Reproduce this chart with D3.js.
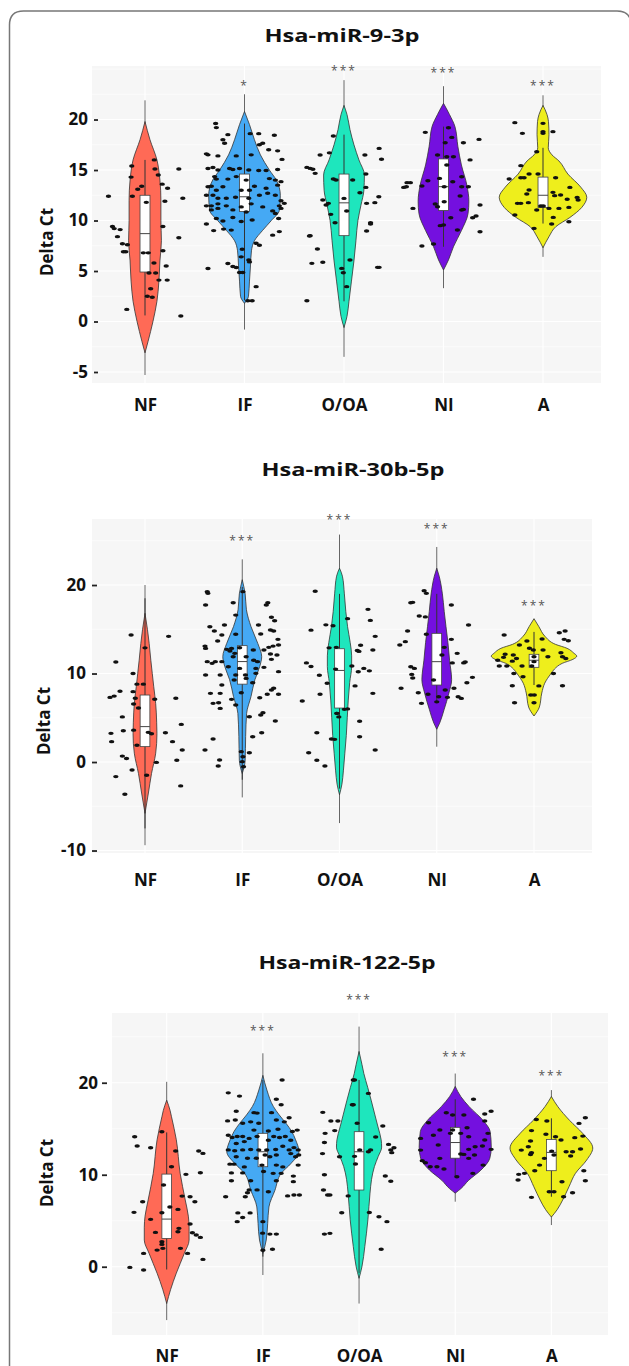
<!DOCTYPE html>
<html>
<head>
<meta charset="utf-8">
<script src="https://cdn.jsdelivr.net/npm/d3@7"></script>
<style>
  body { margin: 0; background: #fff; }
  svg { display: block; font-family: "Open Sans", sans-serif; }
</style>
</head>
<body>
<svg width="629" height="1366"></svg>
<script>
// groups and colours
var categories = ["NF", "IF", "O/OA", "NI", "A"];
var fills = ["#ff6a56", "#45a9f4", "#1ee6bd", "#7410df", "#eeee1c"];
var titles = ["Hsa-miR-9-3p", "Hsa-miR-30b-5p", "Hsa-miR-122-5p"];
var yTicks1 = [-5, 0, 5, 10, 15, 20];
var yTicks2 = [-10, 0, 10, 20];
var yTicks3 = [0, 10, 20];

// significance marks and their height (Delta Ct units)
var stars1 = ["", "*", "***", "***", "***"];
var starAt1 = [null, 23.5, 25.0, 24.8, 23.5];
var stars2 = ["", "***", "***", "***", "***"];
var starAt2 = [null, 25.2, 27.6, 26.5, 17.9];
var stars3 = ["", "***", "***", "***", "***"];
var starAt3 = [null, 25.8, 29.2, 23.0, 20.9];

// ---- panel 1 : miR-9-3p ----
// violin outline: [Delta Ct, half width]
var violin1 = [
  [[19.8,0],[18,5],[16,12],[14,15],[12,16],[10,16],[8,16.5],[6,15],[4,14],[2,12],[0,8],[-2,3],[-3.1,0]],
  [[20.8,0],[19.5,5],[18,10],[16.5,16],[15,25],[14,32],[12.5,36],[11,35],[10,27],[9,18],[8,10],[7,7],[5.5,6],[4,5],[2.5,4],[1.8,0]],
  [[21.4,0],[20.5,3],[19,6],[17.5,10],[16,15],[14.5,20.5],[13,20],[11.5,17],[10,14],[8,12],[6,10],[4,7.5],[2,5],[0.5,3],[-0.6,0]],
  [[21.6,0],[20.5,6],[19.3,11.5],[17.3,14.5],[15.5,18],[13.5,23.5],[11.9,25.5],[10.7,24.7],[9,18],[7.4,10],[6.1,5],[5.1,0]],
  [[21.4,0],[20.5,4],[19.8,5.5],[18.5,6],[17.2,5.3],[16.5,9],[15.9,16],[14.6,25],[13.3,38],[12.3,44],[11.3,39],[10.3,27],[9.4,13],[8.4,6],[7.3,0]]
];
var box1 = [[4.9,8.7,12.5],[10.9,12.35,14.6],[8.5,11.75,14.6],[11.0,13.35,16.1],[11.3,12.5,14.3]];
var whisker1 = [[0.6,16.0],[2.1,19.6],[2.0,18.5],[7.4,19.3],[9.7,17.2]];
var range1 = [[-5.3,21.9],[-0.8,22.5],[-3.5,23.9],[3.3,23.3],[6.4,22.4]];
// points: [jitter, Delta Ct]
var points1 = [
  [[-36.7,12.4],[-32.7,9.4],[-31,9.2],[-27.7,8.4],[-25,9.1],[-22.7,7.7],[-19.3,6.9],[-17.7,7.6],[-21.7,6.9],[-18.3,1.2],[-14,14.3],[-13.3,15.4],[-12.7,12.4],[-7.3,13.1],[-3.3,13.4],[-1.7,6.8],[1.3,11.8],[3.3,6.8],[4,4.8],[5.7,3.25],[2.3,2.5],[7.3,2.4],[9.3,16.0],[10,15.1],[10.7,4.8],[13.3,14.5],[17.3,13.6],[18,9.4],[18,7.0],[20,11.9],[21.3,5.5],[22.3,4.1],[22.7,13.2],[34,15.1],[34,8.3],[38,12.2],[36,0.55],[9,5.8],[14,4.1]],
  [[-29,19.6],[-28.3,19.2],[-16.7,18.5],[-21.7,18.0],[-20,17.65],[-38.3,16.6],[-36.7,16.5],[-26.7,16.4],[-8.3,16.4],[6.7,16.5],[15,17.5],[18.3,17.65],[24.3,17.0],[30,18.45],[33.3,16.9],[37.7,16.05],[5.7,18.6],[14.3,18.6],[-36.7,15.15],[-31.7,15.25],[-26.7,15.0],[-15,15.15],[-11.7,15.05],[-5,15.15],[4.3,15.0],[14.3,14.95],[21.7,14.95],[33.3,15.05],[-30,14.35],[-28.3,14.1],[-16.7,14.1],[-8.3,14.35],[1.7,14.0],[25,14.15],[31,14.0],[36.7,13.85],[-36.7,13.35],[-33.3,13.4],[-28.3,13.0],[-21.7,13.35],[-3.3,13.0],[5,13.0],[10,13.4],[21.7,13.2],[23.3,12.7],[33.3,13.5],[-38.3,12.5],[-31.7,12.5],[-26.7,12.2],[-18.3,12.2],[-9,12.3],[4.3,12.2],[15,12.5],[31,12.5],[36.7,11.95],[-38.3,11.45],[-33.3,11.45],[-26.7,11.65],[-18.3,11.45],[-3.3,11.35],[6.7,11.65],[18.3,11.35],[35,11.45],[40,11.7],[28.3,10.95],[-33.3,11.05],[-26.7,11.2],[-11.7,11.05],[1.7,10.85],[31,10.7],[36.7,11.2],[-38.3,9.65],[-28.3,10.2],[-21.7,9.95],[-11.7,10.3],[-3.3,9.9],[7.7,10.05],[34.3,10.2],[-31,9.0],[-21,9.15],[-13.3,9.05],[28.3,8.55],[35,8.9],[11.7,7.75],[15,7.55],[-2.3,7.15],[-3.3,6.4],[4.3,6.1],[5,5.9],[-16.7,5.75],[-11.7,5.45],[-8.3,5.35],[-36.7,5.25],[-5,4.85],[-1.7,4.85],[11.7,3.45],[3.3,2.05],[7.7,2.05]],
  [[-37.3,15.26],[-34,15.16],[-31.3,15.07],[-29,14.67],[-24,16.48],[-14.7,16.7],[-10.7,18.37],[-10.7,14.11],[-8,14.01],[8.7,14.01],[21,16.48],[35.3,17.14],[37.7,16.06],[22,14.6],[22,13.28],[16,12.75],[35,12.36],[31,11.77],[22.7,11.7],[0,12.19],[-21.3,12.03],[-18,11.53],[-15.7,11.7],[-13.3,10.61],[2.7,10.94],[-9,9.78],[26.7,9.78],[26.7,9.65],[22.7,8.96],[-34,8.5],[-34.7,8.46],[-26.7,7.18],[-32.3,5.76],[-21.3,5.86],[6,6.09],[-2.3,5.26],[-0.7,4.83],[2.7,3.45],[33.7,5.36],[35.3,5.36],[-37.3,2.06]],
  [[-18.3,18.73],[5,19.19],[8.3,18.23],[20,17.7],[35.7,18.03],[1.7,17.7],[-6,16.48],[3.3,16.32],[10,16.32],[26.7,16.0],[-36.7,13.75],[-33.3,13.75],[-40,13.28],[-37.3,13.35],[-21.7,13.41],[-15.7,13.94],[-4,14.17],[3.3,15.5],[0.7,13.35],[18.3,14.34],[18.3,13.35],[25,13.35],[9.3,13.84],[16.7,12.42],[-30.7,11.2],[-8.3,11.63],[-6,11.37],[0.7,11.86],[18.3,11.04],[20,11.1],[36.7,11.53],[29.3,10.28],[32.7,10.45],[-3.3,9.49],[0,9.55],[7.3,10.28],[14,9.06],[36.7,8.89],[-21.7,7.47],[-10,7.67]],
  [[-28.3,19.69],[-20.7,18.63],[0,19.62],[0,18.8],[0,18.63],[10,18.8],[-6.3,16.81],[-22.3,15.43],[-34,14.11],[-22.3,14.24],[-19,14.24],[-14,14.6],[-5,14.6],[12.7,14.24],[27,13.28],[-14,13.02],[-16.3,12.62],[-25.7,11.7],[-22.3,11.7],[-14.7,11.77],[-2.3,11.43],[0.3,11.43],[10,12.79],[11.7,12.46],[17.7,12.52],[24.3,12.1],[34.3,12.29],[35.3,12.03],[6,11.2],[16,11.2],[26,11.3],[-28.3,10.54],[-6.3,11.04],[10.3,10.31],[8.7,9.65],[26,9.88],[-9,9.22]]
];

// ---- panel 2 : miR-30b-5p ----
var violin2 = [
  [[16.8,0],[15,2.5],[13.4,4.3],[11.5,6],[10,7.5],[8.5,9],[6.6,11],[4.5,12],[3.2,12.3],[1,11],[-1.3,6.7],[-3.5,3.5],[-5.8,0]],
  [[20.6,0],[19,3],[17.2,4.3],[15.3,9],[13.4,16],[11.9,20],[10.8,18],[9.3,13],[7.4,9],[5.5,4.5],[2.9,3.5],[0.2,3],[-1.3,0]],
  [[21.9,0],[21,3],[19,5],[17,6.5],[15.3,8.3],[13.5,11],[12,12.5],[10.8,12.5],[9,10.5],[7,9],[5,8],[3,7],[1,5.5],[-1,4],[-2.5,2.5],[-3.7,0]],
  [[21.9,0],[21,2.5],[19,5.8],[17,7.7],[15.3,9.5],[13.5,11.5],[11.5,13.2],[9.3,15.3],[7.8,12.5],[5.9,7.5],[4.4,3],[3.7,0]],
  [[16.2,0],[15.3,5],[14.2,11.3],[13.3,22],[12.85,34],[12.3,41],[11.97,44],[11.6,40],[11.15,29],[10.5,21],[10,17.5],[8.9,11],[7.8,8],[6.2,5.5],[5.2,0]]
];
var box2 = [[1.74,4.0,7.57],[8.8,11.35,13.15],[6.1,10.35,12.8],[8.7,11.34,14.54],[10.7,11.5,12.17]];
var whisker2 = [[-7.5,18.5],[-2.0,19.8],[-3.0,19.0],[6.9,19.0],[8.7,14.7]];
var range2 = [[-9.4,20.0],[-4.0,22.9],[-6.9,25.7],[1.73,24.3],[8.7,14.7]];
var points2 = [
  [[-14.3,14.35],[24.3,14.2],[-30,11.3],[-12.3,10.0],[-8.3,8.8],[-1.7,8.8],[-25.7,8.0],[-31.7,7.45],[-36,7.3],[-12.3,7.95],[10,7.1],[31.7,7.2],[-10,7.2],[-11.7,6.55],[-6.7,6.1],[-23.3,5.1],[37.3,4.25],[-35,3.24],[-22.3,3.54],[-11.7,3.6],[3.3,3.35],[21,3.3],[-34.3,2.3],[-8.3,1.9],[28.3,2.3],[38.3,1.35],[-23.3,0.67],[-19,0.4],[11.7,-0.04],[32.7,0.2],[-13.3,-0.9],[-30,-1.65],[1.7,-1.5],[36.7,-2.7],[-20.7,-3.65],[6.7,3.2],[0,12.9]],
  [[-36,19.25],[-35.3,19.06],[0.7,19.25],[-37.7,17.74],[-9.3,18.0],[26.3,18.0],[24.7,17.74],[-6.7,16.6],[30,16.35],[33.3,15.97],[-33.3,15.29],[-18.3,15.48],[16.7,15.48],[-28.7,14.8],[29,14.92],[32.3,14.8],[-21,14.35],[-6.7,14.43],[19,14.46],[-25.3,13.67],[36.7,13.86],[-38.3,13.1],[-37.7,12.84],[-16,12.73],[-11,12.84],[-2.7,12.92],[27.3,12.96],[31.7,13.1],[37.3,13.22],[-12.7,12.54],[-7.7,12.28],[11.3,12.66],[22.3,12.66],[29,12.2],[35.7,12.09],[-36,11.34],[-27.7,11.34],[-21,11.34],[-9.3,11.9],[4,11.9],[11.7,11.5],[15.7,11.34],[30,11.6],[-31,11.15],[-14.3,10.77],[-2.7,10.58],[14,10.58],[22.3,10.7],[-37.7,9.83],[-22.7,9.83],[-6.7,9.83],[3.3,9.83],[14,10.02],[37.3,10.21],[-21,8.7],[-8.3,9.27],[4,9.45],[10.7,8.96],[-32.7,7.76],[-22.7,7.76],[-1,7.83],[18,7.27],[30,8.14],[32.3,8.33],[25.7,7.65],[37.3,7.65],[-30,6.63],[-24.3,6.7],[-22.7,6.06],[-11,7.08],[-6.7,6.44],[19,5.31],[21.3,5.57],[7.3,5.12],[34,4.63],[20,3.3],[10.7,2.86],[-30,2.6],[-38.3,1.36],[-1,1.17],[7.3,1.05],[-23.3,0.22],[-24.7,-0.45],[0,0.04],[1.3,-0.53],[0.7,0.6]],
  [[-25,19.3],[-29.3,14.9],[-14,15.5],[-34,11.2],[-29.3,10.8],[-20.7,9.8],[-20,7.65],[-38.3,6.9],[-23.3,3.3],[-5,2.56],[-31.7,1.05],[-23.3,0.2],[-15,-0.45],[-10.7,12.9],[-2.7,5.5],[-12.7,8.9],[29.3,17.25],[31.7,16.0],[36.7,14.2],[21.7,13.2],[18.3,12.6],[20,12.5],[34.3,12.66],[8.3,16.2],[-6.7,15.4],[12.7,10.85],[25,10.58],[30.7,10.3],[19.3,10.2],[16,8.6],[34.3,7.76],[8.3,6.0],[5,5.95],[-2.7,5.5],[-0.7,5.1],[20.7,4.6],[20.7,2.86],[36.7,1.36],[-8.3,2.6],[-4,10.5],[-3.3,12.96]],
  [[-13,19.36],[-10.7,19.06],[-26.7,18.0],[-24.7,18.04],[15,17.74],[-18,16.5],[-11.7,16.4],[32.7,15.48],[-30,14.8],[-10.7,14.43],[-32.3,13.6],[-38,13.22],[15,13.86],[7.7,12.96],[5.3,12.09],[21,12.28],[-26.7,10.77],[-23,10.58],[-25.7,9.9],[-24.7,9.5],[27.7,11.2],[29.3,11.3],[16,11.2],[36.7,9.57],[31,8.96],[-3.3,9.27],[-36.7,8.33],[8.7,8.14],[17.7,8.33],[-19,7.83],[-9,7.65],[2,7.38],[11,7.31],[22,7.38],[25.3,7.19],[-15.7,6.63],[0,6.8]],
  [[-30.7,14.35],[26,14.6],[32,14.8],[31,13.86],[35.3,13.7],[8.3,13.9],[-7.3,13.67],[-15,13.22],[-29.7,12.17],[-31.3,11.83],[-37.3,11.5],[-35.7,10.85],[-28,10.85],[-22.3,11.4],[-21.3,12.09],[-18,11.7],[-12.3,10.85],[-4.7,12.85],[-0.7,12.66],[0,11.9],[0,11.34],[-2.3,10.85],[27.7,12.35],[29.3,11.9],[32.7,11.7],[20,10.0],[-20.7,10.0],[-11.3,9.64],[-22.3,8.62],[5,8.6],[29.3,8.62],[-3.3,7.57],[0.3,7.57],[-20,6.7],[0,6.7],[9.3,12.66],[14.3,11.9]]
];

// ---- panel 3 : miR-122-5p ----
var violin3 = [
  [[18.1,0],[17,3.5],[16.3,5],[13.8,10],[10.15,14],[7.25,19.3],[5.5,22.5],[4.3,23.3],[2.9,23.3],[1.45,18.3],[-0.7,10],[-2.5,4],[-4,0]],
  [[20.8,0],[19.2,4.2],[17.4,11],[16.5,17],[15.6,24],[14.7,30],[13.8,34],[12.5,37.5],[11.2,29],[10.15,19],[8.3,12.5],[6.5,6.3],[4.7,5],[2.9,3.5],[1.45,0]],
  [[23.4,0],[22,3],[21,5],[19.5,9],[18.1,12.6],[16.5,16.5],[15.2,19.7],[13.8,23],[13,23.5],[12,20],[10.9,16],[9.5,13],[8,11.4],[5.1,9.2],[2.2,6],[0,3],[-1.26,0]],
  [[19.6,0],[18.5,5.8],[17.4,14.5],[15.9,29],[14.7,36.3],[13,37.5],[11.8,36],[10.5,26.7],[9.4,14],[8.5,6],[8,0]],
  [[18.5,0],[17.4,6.7],[15.9,19],[14.5,32.5],[12.9,43],[11.6,36.7],[10.15,25],[8.7,18.3],[7.25,11.7],[6.2,6],[5.4,0]]
];
var box3 = [[3.08,5.18,10.07],[10.87,12.5,14.5],[8.34,12.5,14.68],[11.8,13.5,15.15],[10.44,12.43,13.84]];
var whisker3 = [[-0.3,14.6],[1.1,20.3],[-0.7,20.3],[9.8,18.2],[7.61,16.13]];
var range3 = [[-5.8,20.1],[-0.9,23.2],[-4.0,26.1],[7.07,21.0],[4.53,19.2]];
var points3 = [
  [[-33.3,14.13],[-30.7,13.12],[-16.7,12.94],[-5,14.68],[9.3,12.58],[33.3,12.58],[37.7,12.32],[5,10.87],[20,10.04],[35,10.22],[-3.3,8.88],[16,7.68],[24.3,7.61],[29.3,7.07],[-25,7.07],[-34,5.91],[-16.7,5.15],[-5,5.87],[11.7,6.23],[24.3,4.64],[26.7,3.7],[30.7,3.45],[35,3.19],[12.7,4.17],[11.7,3.8],[-11.7,3.73],[-5,2.72],[-5,2.43],[-4,2.0],[-10,1.81],[14.3,2.0],[21.7,1.45],[-24,1.45],[-38.3,-0.07],[-24,-0.36],[37.7,0.8],[3.3,6.5]],
  [[20,20.3],[-36,18.9],[-24.3,18.55],[14,18.2],[19,17.6],[-27.7,16.9],[-9.3,16.75],[-6,16.7],[9,16.75],[27.3,16.2],[-36.7,15.85],[-28.7,15.95],[-21,15.6],[-12.7,15.75],[-4.3,15.6],[14,15.95],[22.3,15.75],[35.7,14.85],[30.7,14.7],[-9.3,14.85],[5.7,14.75],[15.7,14.95],[-36,14.3],[-32,14.05],[-26.7,14.15],[-21,14.15],[-14.3,13.95],[-6,14.15],[11.3,14.15],[17.3,14.05],[23.3,14.15],[29,13.75],[-27.7,13.4],[-19.3,13.6],[5.7,13.75],[20.7,13.1],[32.3,12.95],[-36,12.7],[-29.3,12.6],[-21,12.7],[-12.7,12.75],[-4.3,12.7],[4,12.7],[13.3,12.75],[27.3,12.7],[36.7,12.7],[-27.7,11.95],[-16,11.8],[-6.7,11.8],[2.3,12.15],[7.3,11.95],[14,12.15],[29,12.3],[34,11.95],[37.3,12.15],[-34.3,11.15],[-30,11.15],[-19.3,10.85],[-1,11.05],[14,11.05],[20.7,10.85],[36.7,11.05],[-32.7,10.2],[-21,10.2],[0.7,10.35],[10.7,10.15],[19,10.15],[31.7,9.85],[-32.7,9.35],[-12.7,9.35],[14,9.35],[31.7,9.25],[-14.3,8.35],[5.7,8.15],[-6,8.35],[25.7,7.7],[32.3,7.8],[38,7.8],[-38.7,7.6],[-18.3,7.6],[-16,8.05],[-26,5.85],[-13.3,5.85],[-26.7,4.9],[-21,5.35],[0,4.9],[-0.3,3.65],[7.3,3.55],[14,3.55],[0,1.8],[10,1.9]],
  [[-37.7,16.78],[-29.3,15.84],[-22,15.84],[-25.3,14.8],[-35.3,14.5],[-36,13.5],[-38,12.3],[-20.3,11.96],[-6,20.3],[-6,17.6],[-2,15.6],[-36,10.0],[-37,8.34],[-32.7,7.8],[-30.3,7.8],[-11.3,7.7],[-18,5.87],[-36,3.55],[-30.3,3.63],[-4.7,20.3],[9.7,18.84],[-7,17.6],[24.7,15.3],[17.3,14.1],[30.7,13.3],[36.3,12.94],[33,12.7],[34,12.4],[12,12.7],[9.7,12.5],[-4.7,12.0],[-3.7,11.16],[27.3,9.86],[33,9.3],[10.7,5.9],[20.7,5.44],[29,4.9],[23,1.9],[0.7,12.7]],
  [[19,18.2],[37.3,16.9],[30.7,16.6],[-9.3,16.74],[-2.7,16.5],[9,16.5],[-27.7,15.65],[30.7,15.84],[12.3,15.1],[-16,14.86],[-22.7,14.3],[-5,14.5],[5.7,14.5],[14,14.13],[-36,13.95],[34,14.5],[30.7,13.77],[-17.7,13.23],[-2.7,14.86],[20.7,13.05],[28.3,13.12],[14,12.76],[37.3,12.76],[-36,12.68],[9,12.21],[20,12.14],[5.7,12.25],[-16,11.78],[-34.3,11.53],[-31,11.3],[14,11.78],[-26,10.87],[-19,10.87],[-11.7,10.62],[29,11.05],[18.3,10.15],[1.7,9.78]],
  [[-15.7,16.0],[-4.7,15.84],[35.3,16.2],[28.7,15.58],[-20.7,14.8],[-5.7,14.4],[4.3,14.13],[10,13.77],[24.3,14.03],[32.7,14.2],[-21.7,13.66],[-24,13.05],[-20.7,12.4],[-31.3,12.68],[-21.7,12.2],[-7.3,11.78],[0.3,12.57],[2.7,12.14],[15.3,12.5],[22,12.5],[20,12.03],[30.3,12.8],[-12.3,11.05],[-17.3,10.44],[-34,10.04],[-28,10.15],[-34.7,9.42],[11,9.24],[33.7,10.44],[35.3,9.35],[-2.3,8.15],[2.7,8.15],[22,8.05],[12.7,7.61],[-20.7,7.54]]
];

// layout of the three stacked panels
var panels = [
  {title: titles[0], tx: 342, ty: 42, tlen: 155, left: 92, right: 601, top: 66, bottom: 383, dom: [-6.09, 25.3],
   cx: [145, 543], ticks: yTicks1, axisX: 98, tick: 4, pad: 6, labY: 411, ylx: 47, yly: 242,
   violin: violin1, box: box1, whisk: whisker1, span: range1, pts: points1, stars: stars1, starAt: starAt1},
  {title: titles[1], tx: 353, ty: 476, tlen: 183, left: 92, right: 592, top: 519, bottom: 853, dom: [-10.28, 27.46],
   cx: [145, 534], ticks: yTicks2, axisX: 97, tick: 5, pad: 6, labY: 886, ylx: 44, yly: 721,
   violin: violin2, box: box2, whisk: whisker2, span: range2, pts: points2, stars: stars2, starAt: starAt2},
  {title: titles[2], tx: 347, ty: 969, tlen: 177, left: 112, right: 608, top: 1013, bottom: 1335, dom: [-7.42, 27.58],
   cx: [166.7, 551.4], ticks: yTicks3, axisX: 107, tick: 5, pad: 4, labY: 1362, ylx: 47, yly: 1173,
   violin: violin3, box: box3, whisk: whisker3, span: range3, pts: points3, stars: stars3, starAt: starAt3}
];

var svg = d3.select("svg");

// frame round the figure
svg.append("path")
  .attr("d", "M9.5,1366 V25 Q9.5,11 23.5,11 H617 Q631,11 631,25 V1366")
  .attr("fill", "none").attr("stroke", "#777").attr("stroke-width", 1.5);

panels.forEach(function(p){
  var g = svg.append("g");
  var y = d3.scaleLinear().domain(p.dom).range([p.bottom, p.top]);
  var x = d3.scalePoint().domain(categories).range(p.cx);
  var w = d3.scaleLinear().domain([0, 100]).range([0, x.step()]);

  g.append("text").attr("x", p.tx - p.tlen / 2).attr("y", p.ty)
    .attr("textLength", p.tlen).attr("lengthAdjust", "spacingAndGlyphs")
    .attr("font-size", 17).attr("font-weight", 700)
    .attr("fill", "#111").text(p.title);

  g.append("rect").attr("x", p.left).attr("y", p.top)
    .attr("width", p.right - p.left).attr("height", p.bottom - p.top)
    .attr("fill", "#f6f6f6");

  // grid
  var minor = d3.range(p.ticks[0] - (p.ticks[1]-p.ticks[0])/2, p.dom[1], (p.ticks[1]-p.ticks[0])/2)
    .filter(function(v){ return v > p.dom[0] && p.ticks.indexOf(v) < 0; });
  g.selectAll(".minor").data(minor).enter().append("line")
    .attr("x1", p.left).attr("x2", p.right)
    .attr("y1", function(d){ return y(d); }).attr("y2", function(d){ return y(d); })
    .attr("stroke", "#fff").attr("stroke-width", 0.6);
  g.selectAll(".major").data(p.ticks).enter().append("line")
    .attr("x1", p.left).attr("x2", p.right)
    .attr("y1", function(d){ return y(d); }).attr("y2", function(d){ return y(d); })
    .attr("stroke", "#fff").attr("stroke-width", 1.2);
  g.selectAll(".vgrid").data(categories).enter().append("line")
    .attr("x1", function(d){ return x(d); }).attr("x2", function(d){ return x(d); })
    .attr("y1", p.top).attr("y2", p.bottom)
    .attr("stroke", "#fff").attr("stroke-width", 1.2);

  // y axis
  var ya = g.append("g").attr("transform", "translate(" + p.axisX + ",0)")
    .call(d3.axisLeft(y).tickValues(p.ticks).tickSize(p.tick).tickPadding(p.pad)
      .tickFormat(function(d){ return String(d); }));
  ya.select(".domain").remove();
  ya.selectAll("line").attr("stroke", "#222").attr("stroke-width", 1.8);
  ya.selectAll("text").attr("font-size", 17).attr("font-weight", 700).attr("fill", "#111")
    .attr("font-family", "Open Sans, sans-serif");

  // x axis labels
  var xa = g.append("g").attr("transform", "translate(0," + p.labY + ")")
    .call(d3.axisBottom(x).tickSize(0).tickPadding(0));
  xa.select(".domain").remove();
  xa.selectAll("text").attr("dy", 0).attr("y", 0).attr("font-size", 17).attr("font-weight", 700)
    .attr("fill", "#111").attr("font-family", "Open Sans, sans-serif");

  g.append("text").attr("transform", "translate(" + p.ylx + "," + p.yly + ") rotate(-90)")
    .attr("text-anchor", "middle").attr("dy", "0.35em")
    .attr("font-size", 17).attr("font-weight", 700).attr("fill", "#111").text("Delta Ct");

  categories.forEach(function(c, i){
    var cx = x(c);
    var s = p.span[i], wk = p.whisk[i], b = p.box[i];

    g.append("line").attr("x1", cx).attr("x2", cx).attr("y1", y(s[0])).attr("y2", y(s[1]))
      .attr("stroke", "#666").attr("stroke-width", 1);

    var area = d3.area().curve(d3.curveMonotoneY)
      .y(function(d){ return y(d[0]); })
      .x0(function(d){ return cx - w(d[1]); })
      .x1(function(d){ return cx + w(d[1]); });
    g.append("path").datum(p.violin[i]).attr("d", area)
      .attr("fill", fills[i]).attr("stroke", "#333").attr("stroke-width", 0.8);

    g.append("line").attr("x1", cx).attr("x2", cx).attr("y1", y(wk[0])).attr("y2", y(wk[1]))
      .attr("stroke", "#333").attr("stroke-width", 1);

    g.append("rect").attr("x", cx - w(5)).attr("width", w(10))
      .attr("y", y(b[2])).attr("height", y(b[0]) - y(b[2]))
      .attr("fill", "#fff").attr("stroke", "#444").attr("stroke-width", 0.8);
    g.append("line").attr("x1", cx - w(5)).attr("x2", cx + w(5))
      .attr("y1", y(b[1])).attr("y2", y(b[1])).attr("stroke", "#444").attr("stroke-width", 1);

    g.selectAll(".pt" + i).data(p.pts[i]).enter().append("ellipse")
      .attr("cx", function(d){ return cx + w(d[0]); })
      .attr("cy", function(d){ return y(d[1]); })
      .attr("rx", 2.7).attr("ry", 1.7).attr("fill", "#111");

    if (p.stars[i]) {
      g.append("text").attr("x", cx).attr("y", y(p.starAt[i]) + 6)
        .attr("text-anchor", "middle").attr("font-size", 12).attr("letter-spacing", 2)
        .attr("fill", "#555").text(p.stars[i]);
    }
  });
});
</script>
</body>
</html>
